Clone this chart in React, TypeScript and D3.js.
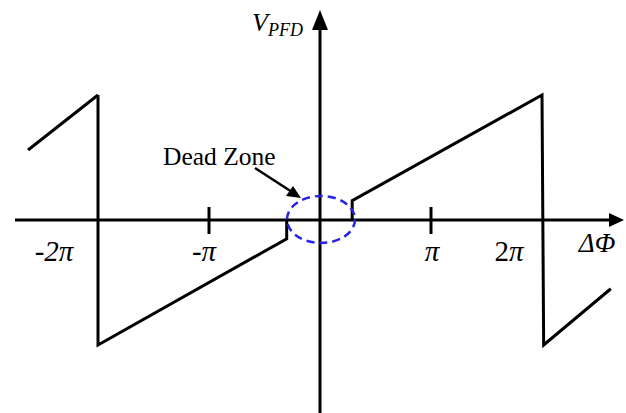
import React from "react";
import * as d3 from "d3";

// Phase difference in units of π, V_PFD in arbitrary units.
const leftTail: [number, number][] = [[-2.63, 1.12], [-2, 2]];
const leftRamp: [number, number][] = [[-2, 2], [-2, -2], [-0.3, -0.3], [-0.3, 0]];
const rightRamp: [number, number][] = [[0.29, 0], [0.29, 0.31], [2, 2], [2.015, -2], [2.62, -1.1]];
const tickValues = [-1, 1];
const tickLabels = [
  { value: -2, sign: "-", num: "2", italicNum: true },
  { value: -1, sign: "-", num: "", italicNum: true },
  { value: 1, sign: "", num: "", italicNum: false },
  { value: 2, sign: "", num: "2", italicNum: false },
];
const deadZoneLabel = "Dead Zone";

const W = 626;
const H = 413;
const SERIF = "'Liberation Serif', 'Times New Roman', serif";

// label offsets relative to the tick position
const labelDx: Record<number, number> = { [-2]: -44, [-1]: -5, [1]: 1, [2]: -33 };

export default function App() {
  const x = d3.scaleLinear().domain([0, 1]).range([320, 431]);
  const y = d3.scaleLinear().domain([0, 2]).range([220, 95]);
  const line = d3.line<[number, number]>().x((d) => x(d[0])).y((d) => y(d[1]));

  const x0 = x(0);
  const y0 = y(0);

  return (
    <svg
      width={W}
      height={H}
      style={{ position: "absolute", left: 0, top: 0, background: "#fff" }}
      fontFamily={SERIF}
    >
      {/* axes */}
      <line x1={15} x2={612} y1={y0} y2={y0} stroke="#000" strokeWidth={3} />
      <path d={`M624,${y0} L609,${y0 - 7} L609,${y0 + 7} Z`} fill="#000" />
      <line x1={x0} x2={x0} y1={H} y2={26} stroke="#000" strokeWidth={3} />
      <path d={`M${x0},10 L${x0 - 8},30 L${x0 + 8},30 Z`} fill="#000" />

      {/* ticks */}
      {tickValues.map((t) => (
        <line key={t} x1={x(t)} x2={x(t)} y1={y0 - 13} y2={y0 + 14} stroke="#000" strokeWidth={3} />
      ))}

      {/* tick labels */}
      {tickLabels.map((l) => (
        <text key={l.value} x={x(l.value) + labelDx[l.value]} y={261} fontSize={29} textAnchor="middle">
          {l.sign && <tspan fontStyle="italic">{l.sign}</tspan>}
          {l.num && <tspan fontStyle={l.italicNum ? "italic" : "normal"}>{l.num}</tspan>}
          <tspan fontStyle="italic">π</tspan>
        </text>
      ))}

      {/* axis titles */}
      <text x={597} y={252} fontSize={27} fontStyle="italic" textAnchor="middle">ΔΦ</text>
      <text x={252} y={31} fontSize={26} fontStyle="italic">
        V<tspan fontSize={18} dy={5}>PFD</tspan>
      </text>

      {/* characteristic */}
      <path d={line(leftTail) ?? ""} fill="none" stroke="#000" strokeWidth={3} />
      <path d={line(leftRamp) ?? ""} fill="none" stroke="#000" strokeWidth={3} strokeLinejoin="miter" />
      <path d={line(rightRamp) ?? ""} fill="none" stroke="#000" strokeWidth={3} strokeLinejoin="miter" />

      {/* dead zone marker */}
      <ellipse cx={x0 + 1} cy={y0 - 0.5} rx={34} ry={23.5} fill="none" stroke="#2424e6" strokeWidth={2.5} strokeDasharray="8 5" />
      <text x={163} y={165} fontSize={25.5}>{deadZoneLabel}</text>
      <line x1={255} y1={168} x2={292} y2={192} stroke="#000" strokeWidth={2.5} />
      <path d="M301,198 L286,196 L293,186 Z" fill="#000" />
    </svg>
  );
}
